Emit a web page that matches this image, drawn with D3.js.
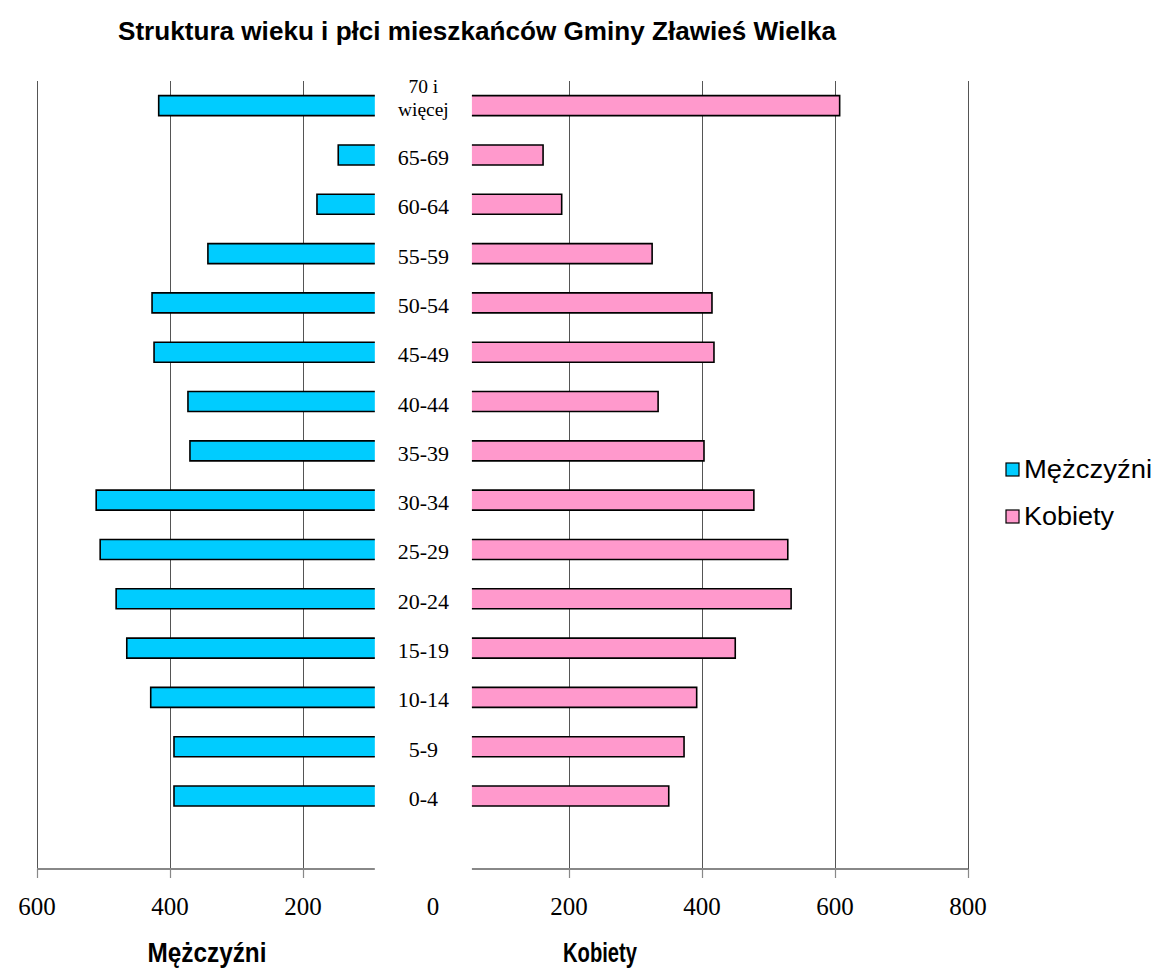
<!DOCTYPE html>
<html>
<head>
<meta charset="utf-8">
<script src="https://cdn.jsdelivr.net/npm/d3@7"></script>
<style>
  body { margin: 0; background: #fff; }
</style>
</head>
<body>
<div id="pyramid"></div>
<script>
// age groups, top to bottom
const ageGroups = ["70 i więcej", "65-69", "60-64", "55-59", "50-54", "45-49", "40-44",
  "35-39", "30-34", "25-29", "20-24", "15-19", "10-14", "5-9", "0-4"];
const men = [417, 147, 179, 343, 427, 424, 373, 370, 511, 505, 481, 465, 429, 394, 394];
const women = [607, 161, 189, 325, 415, 418, 334, 403, 478, 529, 534, 450, 392, 373, 350];

const menTicks = [600, 400, 200];
const womenTicks = [200, 400, 600, 800];
// hidden part of each bar that makes room for the labels in the middle
const menGap = 92;
const womenGap = 54;

const sans = '"Liberation Sans Narrow", "Arial Narrow", "Liberation Sans", Arial, sans-serif';
const serif = '"Liberation Serif", "Times New Roman", serif';

document.addEventListener("DOMContentLoaded", function () {
  const width = 1158, height = 975;

  const svg = d3.select("#pyramid")
    .append("svg")
    .attr("width", width)
    .attr("height", height);

  const x = d3.scaleLinear().domain([-600, 800]).range([37, 968]);

  // one blank band under 0-4
  const y = d3.scaleBand()
    .domain([...ageGroups, ""])
    .range([81, 870])
    .paddingInner(0.594)
    .paddingOuter(0.297);

  const rows = ageGroups.map((g, i) => ({ group: g, m: men[i], k: women[i] }));

  // gridlines
  const gridVals = [...menTicks.map(d => -d), ...womenTicks];
  svg.append("g")
    .selectAll("line")
    .data(gridVals)
    .enter()
    .append("line")
    .attr("x1", d => Math.round(x(d)) + 0.5)
    .attr("x2", d => Math.round(x(d)) + 0.5)
    .attr("y1", 81)
    .attr("y2", 870)
    .style("stroke", "#555")
    .style("stroke-width", 1);

  // bottom axis, broken in the middle
  const axisY = 869;
  const axisG = svg.append("g").style("stroke", "#888").style("stroke-width", 2);
  axisG.append("line")
    .attr("x1", x(-600)).attr("x2", x(-menGap))
    .attr("y1", axisY).attr("y2", axisY);
  axisG.append("line")
    .attr("x1", x(womenGap)).attr("x2", x(800))
    .attr("y1", axisY).attr("y2", axisY);
  axisG.selectAll(".tick")
    .data(gridVals)
    .enter()
    .append("line")
    .attr("class", "tick")
    .attr("x1", d => Math.round(x(d)) + 0.5)
    .attr("x2", d => Math.round(x(d)) + 0.5)
    .attr("y1", axisY)
    .attr("y2", axisY + 9)
    .style("stroke-width", 1.2);

  // tick labels
  svg.append("g")
    .selectAll("text")
    .data([...gridVals, 0])
    .enter()
    .append("text")
    .attr("x", d => d === 0 ? x(0) - 3 : x(d))
    .attr("y", 915)
    .attr("text-anchor", "middle")
    .style("font-family", serif)
    .style("font-size", "25px")
    .text(d => Math.abs(d));

  const bh = y.bandwidth();

  // men bars (open on the inner side)
  const mBars = svg.append("g").selectAll("g").data(rows).enter().append("g");
  mBars.append("rect")
    .attr("x", d => x(-d.m))
    .attr("y", d => y(d.group))
    .attr("width", d => x(-menGap) - x(-d.m))
    .attr("height", bh)
    .style("fill", "#00CCFF");
  mBars.append("path")
    .attr("d", d => {
      const x0 = x(-menGap), x1 = x(-d.m), y0 = y(d.group), y1 = y0 + bh;
      return `M${x0},${y0}H${x1}V${y1}H${x0}`;
    })
    .style("fill", "none")
    .style("stroke", "#000")
    .style("stroke-width", 1.6);

  // women bars
  const kBars = svg.append("g").selectAll("g").data(rows).enter().append("g");
  kBars.append("rect")
    .attr("x", x(womenGap))
    .attr("y", d => y(d.group))
    .attr("width", d => x(d.k) - x(womenGap))
    .attr("height", bh)
    .style("fill", "#FF99CC");
  kBars.append("path")
    .attr("d", d => {
      const x0 = x(womenGap), x1 = x(d.k), y0 = y(d.group), y1 = y0 + bh;
      return `M${x0},${y0}H${x1}V${y1}H${x0}`;
    })
    .style("fill", "none")
    .style("stroke", "#000")
    .style("stroke-width", 1.6);

  // age labels in the middle
  const labelX = (x(-menGap) + x(womenGap)) / 2;
  svg.append("g")
    .selectAll("text")
    .data(rows)
    .enter()
    .append("text")
    .attr("text-anchor", "middle")
    .style("font-family", serif)
    .style("font-size", "22px")
    .attr("x", labelX)
    .attr("y", d => y(d.group) + bh / 2 + 10)
    .each(function (d) {
      const t = d3.select(this);
      if (d.group !== "70 i więcej") {
        t.text(d.group);
        return;
      }
      // two-line label
      t.style("font-size", "19.5px");
      t.append("tspan").attr("x", labelX).attr("dy", -23).text("70 i");
      t.append("tspan").attr("x", labelX).attr("dy", 23).text("więcej");
    });

  // title
  svg.append("text")
    .attr("x", 477)
    .attr("y", 40)
    .attr("text-anchor", "middle")
    .attr("textLength", 718)
    .attr("lengthAdjust", "spacingAndGlyphs")
    .style("font-family", sans)
    .style("font-size", "25px")
    .style("font-weight", "bold")
    .text("Struktura wieku i płci mieszkańców Gminy Zławieś Wielka");

  // axis titles
  const axisTitles = [["Mężczyźni", 207, 119], ["Kobiety", 600, 74]];
  svg.append("g")
    .selectAll("text")
    .data(axisTitles)
    .enter()
    .append("text")
    .attr("x", d => d[1])
    .attr("y", 962)
    .attr("text-anchor", "middle")
    .attr("textLength", d => d[2])
    .attr("lengthAdjust", "spacingAndGlyphs")
    .style("font-family", sans)
    .style("font-size", "27px")
    .style("font-weight", "bold")
    .text(d => d[0]);

  // legend
  const legend = svg.append("g")
    .selectAll("g")
    .data([["Mężczyźni", "#00CCFF", 128], ["Kobiety", "#FF99CC", 90]])
    .enter()
    .append("g")
    .attr("transform", (d, i) => `translate(1006,${463 + i * 47})`);
  legend.append("rect")
    .attr("width", 13)
    .attr("height", 13)
    .style("fill", d => d[1])
    .style("stroke", "#000")
    .style("stroke-width", 1.2);
  legend.append("text")
    .attr("x", 18)
    .attr("y", 15)
    .attr("textLength", d => d[2])
    .attr("lengthAdjust", "spacingAndGlyphs")
    .style("font-family", sans)
    .style("font-size", "25px")
    .text(d => d[0]);
});
</script>
</body>
</html>
